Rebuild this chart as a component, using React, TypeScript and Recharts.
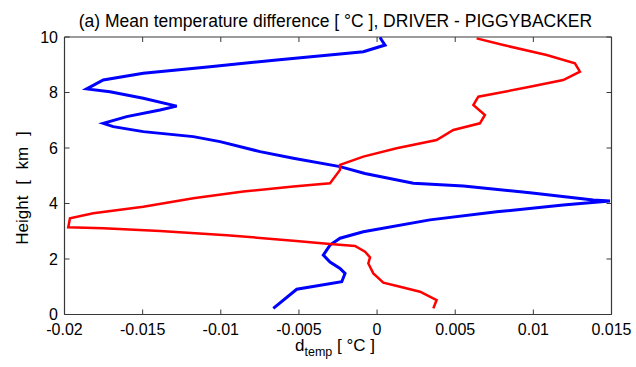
import React from 'react'
import { ScatterChart, Scatter, XAxis, YAxis, Label } from 'recharts'

// profile heights [km] and mean temperature differences, bottom to top
const blueHeight = [0.22, 0.91, 1.18, 1.48, 1.66, 1.89, 2.14, 2.5, 2.75, 2.98, 3.41, 3.7, 3.95, 4.09, 4.13, 4.39, 4.63, 4.73, 5.08, 5.33, 5.63, 5.87, 6.23, 6.41, 6.59, 6.77, 6.89, 7.13, 7.37, 7.51, 7.79, 8.03, 8.13, 8.45, 8.69, 8.93, 9.17, 9.39, 9.47, 9.71, 9.89, 9.99]
const blueDiff = [-0.00664, -0.00514, -0.00226, -0.00205, -0.00237, -0.00301, -0.00344, -0.00301, -0.00237, -0.00088, 0.00338, 0.00765, 0.01191, 0.0149, 0.01383, 0.00978, 0.00552, 0.00232, -0.00078, -0.00237, -0.00536, -0.00749, -0.01005, -0.01176, -0.01496, -0.01688, -0.01752, -0.01602, -0.01389, -0.01282, -0.01496, -0.01709, -0.01858, -0.01752, -0.01496, -0.01069, -0.00642, -0.00237, -0.00088, 0.00051, 0.00029, 0.00019]

const redHeight = [0.22, 0.52, 0.82, 1.0, 1.15, 1.48, 1.84, 2.06, 2.26, 2.47, 2.54, 2.66, 2.86, 3.01, 3.11, 3.14, 3.47, 3.65, 3.88, 4.19, 4.43, 4.61, 4.73, 5.21, 5.39, 5.69, 5.99, 6.29, 6.65, 6.89, 7.19, 7.55, 7.85, 7.97, 8.21, 8.45, 8.75, 9.05, 9.35, 9.71, 9.95]
const redDiff = [0.0036, 0.00381, 0.00275, 0.00147, 0.0004, -0.00024, -0.00056, -0.00045, -0.00077, -0.00141, -0.00301, -0.00536, -0.00962, -0.01389, -0.01752, -0.01976, -0.01965, -0.01816, -0.01496, -0.01176, -0.00856, -0.00536, -0.00301, -0.00237, -0.00237, -0.00088, 0.00125, 0.00381, 0.00488, 0.00658, 0.0069, 0.00616, 0.00648, 0.00765, 0.00978, 0.01191, 0.01298, 0.01266, 0.01085, 0.00808, 0.00637]

const xTicks = [-0.02, -0.015, -0.01, -0.005, 0, 0.005, 0.01, 0.015]
const yTicks = [0, 2, 4, 6, 8, 10]

const blueData = blueHeight.map((h, i) => ({ d: blueDiff[i], h }))
const redData = redHeight.map((h, i) => ({ d: redDiff[i], h }))

const font = '"Liberation Sans", Arial, sans-serif'
const axisColor = '#383838'
const noShape = () => <g />
const TICK = 5
const MARGIN = 13

// inward tick marks (matlab style) + label
const BottomTick = ({ x, y, payload }: any) => {
  const ay = y - MARGIN
  return (
    <g>
      <line x1={x} x2={x} y1={ay} y2={ay - TICK} stroke={axisColor} strokeWidth={1} />
      <text x={x} y={y + 7} textAnchor="middle" fontSize={16} fontFamily={font} fill="#000">{payload.value}</text>
    </g>
  )
}
const TopTick = ({ x, y }: any) => {
  const ay = y + MARGIN
  return <line x1={x} x2={x} y1={ay} y2={ay + TICK} stroke={axisColor} strokeWidth={1} />
}
const LeftTick = ({ x, y, payload }: any) => {
  const ax = x + MARGIN
  return (
    <g>
      <line x1={ax} x2={ax + TICK} y1={y} y2={y} stroke={axisColor} strokeWidth={1} />
      <text x={ax - 6.5} y={y + 5.5} textAnchor="end" fontSize={16} fontFamily={font} fill="#000">{payload.value}</text>
    </g>
  )
}
const RightTick = ({ x, y }: any) => {
  const ax = x - MARGIN
  return <line x1={ax} x2={ax - TICK} y1={y} y2={y} stroke={axisColor} strokeWidth={1} />
}

const XTitle = () => (
  <text x={295} y={351} fontSize={17} fontFamily={font} fill="#000">
    d<tspan fontSize={12.5} dy={5}>temp</tspan><tspan dy={-5} style={{ whiteSpace: 'pre' }}> [ °C ]</tspan>
  </text>
)

const YTitle = () => (
  <text x={28} y={188} transform="rotate(-90, 28, 188)" textAnchor="middle" fontSize={17} fontFamily={font} fill="#000" style={{ wordSpacing: 6 }}>
    Height [ km ]
  </text>
)

const axisLine = { stroke: axisColor, strokeWidth: 1.2 }

const App = () => {
  return (
    <div style={{ position: 'absolute', left: 0, top: 0, width: 636, height: 367, background: '#fff' }}>
      <div style={{ position: 'absolute', left: 0, top: 11.5, width: 671, textAlign: 'center', fontFamily: font, fontSize: 17.5, lineHeight: '18px', whiteSpace: 'nowrap' }}>
        (a) Mean temperature difference [ °C ], DRIVER - PIGGYBACKER
      </div>
      <ScatterChart width={636} height={367} margin={{ top: 36, right: 23.5, bottom: 0, left: 0 }}>
        <XAxis xAxisId="b" type="number" dataKey="d" domain={[-0.02, 0.015]} ticks={xTicks} allowDataOverflow
          height={52.5} axisLine={axisLine} tickLine={false} tickSize={0} tickMargin={MARGIN} tick={<BottomTick />} interval={0}>
          <Label content={<XTitle />} />
        </XAxis>
        <XAxis xAxisId="t" orientation="top" type="number" dataKey="d" domain={[-0.02, 0.015]} ticks={xTicks} allowDataOverflow
          height={1} axisLine={axisLine} tickLine={false} tickSize={0} tickMargin={MARGIN} tick={<TopTick />} interval={0} />
        <YAxis yAxisId="l" type="number" dataKey="h" domain={[0, 10]} ticks={yTicks} allowDataOverflow
          width={64.5} axisLine={axisLine} tickLine={false} tickSize={0} tickMargin={MARGIN} tick={<LeftTick />} interval={0}>
          <Label content={<YTitle />} />
        </YAxis>
        <YAxis yAxisId="r" orientation="right" type="number" dataKey="h" domain={[0, 10]} ticks={yTicks} allowDataOverflow
          width={1} axisLine={axisLine} tickLine={false} tickSize={0} tickMargin={MARGIN} tick={<RightTick />} interval={0} />
        <Scatter xAxisId="b" yAxisId="l" data={blueData} fill="#0000ff" line={{ stroke: '#0000ff', strokeWidth: 3 }} shape={noShape} isAnimationActive={false} />
        <Scatter xAxisId="b" yAxisId="l" data={redData} fill="#ff0000" line={{ stroke: '#ff0000', strokeWidth: 2.5 }} shape={noShape} isAnimationActive={false} />
        <Scatter xAxisId="t" yAxisId="r" data={redData} fill="none" line={false} shape={noShape} isAnimationActive={false} />
      </ScatterChart>
    </div>
  )
}

export default App
